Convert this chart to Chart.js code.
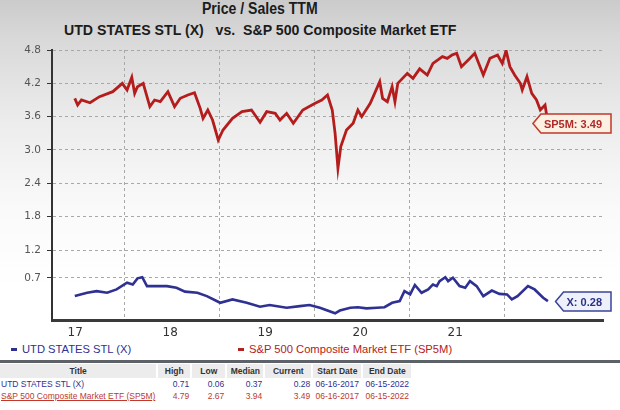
<!DOCTYPE html>
<html>
<head>
<meta charset="utf-8">
<script src="https://cdn.jsdelivr.net/npm/chart.js@4.4.1/dist/chart.umd.min.js"></script>
<style>
  html, body { margin: 0; padding: 0; }
  body {
    width: 620px; height: 410px; overflow: hidden; position: relative;
    background: linear-gradient(to bottom, #cbcbcb 0px, #d9d9d9 40px, #ececec 120px, #fafafa 210px, #ffffff 290px);
    font-family: "Liberation Sans", Arial, sans-serif;
  }
  .head { position: absolute; left: 0; width: 520px; text-align: center; color: #1c1c1c; font-weight: bold; white-space: nowrap; }
  .head span { display: inline-block; transform-origin: center; }
  #title { top: 0px; font-size: 16px; }
  #subtitle { top: 21px; font-size: 15px; }
  #chart { position: absolute; left: 0; top: 0; }
  .legend { position: absolute; top: 343px; font-size: 11.2px; white-space: nowrap; }
  .legend i { display: inline-block; width: 6px; height: 3px; margin-right: 5px; vertical-align: middle; position: relative; top: -1px; }
  #rule { position: absolute; left: 0; top: 360px; width: 620px; height: 3px; background: #5d6268; }
  table { position: absolute; left: 0; top: 364px; border-collapse: collapse; table-layout: fixed; font-size: 8.5px; }
  th { background: #ececec; color: #333; font-weight: bold; height: 14px; padding: 0; border-right: 2px solid #fff; }
  td { height: 12px; padding: 0 2px; text-align: right; white-space: nowrap; }
  td.name { text-align: left; padding-left: 1px; }
  td.date { text-align: center; }
</style>
</head>
<body>
<div id="title" class="head"><span>Price / Sales TTM</span></div>
<div id="subtitle" class="head"><span>UTD STATES STL (X)&nbsp;&nbsp;&nbsp;vs.&nbsp;&nbsp;S&amp;P 500 Composite Market ETF</span></div>
<canvas id="chart" width="620" height="340"></canvas>
<div class="legend" id="legX" style="left:11px;color:#2e3192"><i style="background:#2e3192"></i>UTD STATES STL (X)</div>
<div class="legend" id="legS" style="left:238px;color:#b52020"><i style="background:#b52020"></i>S&amp;P 500 Composite Market ETF (SP5M)</div>
<div id="rule"></div>
<table id="stats"></table>
<script>
// series names / tags
const seriesNames = ['UTD STATES STL (X)', 'S&P 500 Composite Market ETF (SP5M)'];
const seriesTags = ['X', 'SP5M'];
const seriesColors = ['#2e3192', '#b51d1d'];

// S&P 500 ETF price/sales, decimal year -> value
const spDates = [2017.48, 2017.51, 2017.55, 2017.64, 2017.74, 2017.88, 2017.98, 2018.03, 2018.08, 2018.11,
  2018.14, 2018.20, 2018.27, 2018.32, 2018.38, 2018.46, 2018.53, 2018.59, 2018.67, 2018.74,
  2018.80, 2018.83, 2018.88, 2018.93, 2018.99, 2019.04, 2019.14, 2019.24, 2019.34, 2019.43,
  2019.50, 2019.59, 2019.64, 2019.71, 2019.78, 2019.88, 2020.01, 2020.08, 2020.14, 2020.19,
  2020.22, 2020.25, 2020.28, 2020.34, 2020.41, 2020.46, 2020.50, 2020.59, 2020.69, 2020.72,
  2020.77, 2020.82, 2020.85, 2020.88, 2020.98, 2021.04, 2021.11, 2021.19, 2021.25, 2021.35,
  2021.40, 2021.45, 2021.50, 2021.55, 2021.64, 2021.69, 2021.78, 2021.85, 2021.93, 2021.98,
  2022.02, 2022.06, 2022.11, 2022.17, 2022.19, 2022.24, 2022.29, 2022.34, 2022.38, 2022.43, 2022.46];
const spValues = [3.93, 3.81, 3.90, 3.85, 3.96, 4.05, 4.20, 4.08, 4.31, 4.02,
  4.14, 4.20, 3.78, 3.90, 3.87, 4.05, 3.78, 3.93, 3.99, 4.03,
  3.75, 3.57, 3.72, 3.54, 3.18, 3.36, 3.57, 3.69, 3.72, 3.50,
  3.69, 3.66, 3.54, 3.66, 3.48, 3.72, 3.84, 3.90, 3.99, 3.72,
  3.30, 2.67, 3.06, 3.36, 3.48, 3.72, 3.60, 3.84, 4.23, 3.93,
  3.87, 4.14, 3.87, 4.20, 4.38, 4.29, 4.46, 4.35, 4.56, 4.68,
  4.65, 4.71, 4.74, 4.50, 4.65, 4.74, 4.35, 4.65, 4.71, 4.56,
  4.79, 4.50, 4.35, 4.20, 4.08, 4.32, 4.02, 3.90, 3.72, 3.81, 3.49];

// US Steel price/sales
const xDates = [2017.48, 2017.61, 2017.71, 2017.82, 2017.92, 2018.03, 2018.09, 2018.14, 2018.19, 2018.24,
  2018.34, 2018.45, 2018.55, 2018.64, 2018.77, 2018.87, 2019.01, 2019.14, 2019.29, 2019.43,
  2019.53, 2019.71, 2019.85, 2019.95, 2020.06, 2020.22, 2020.27, 2020.38, 2020.46, 2020.55,
  2020.66, 2020.74, 2020.82, 2020.90, 2020.95, 2021.01, 2021.06, 2021.13, 2021.20, 2021.25,
  2021.29, 2021.32, 2021.38, 2021.41, 2021.46, 2021.53, 2021.59, 2021.64, 2021.71, 2021.78,
  2021.87, 2021.95, 2022.03, 2022.08, 2022.14, 2022.25, 2022.32, 2022.41, 2022.46];
const xValues = [0.37, 0.43, 0.46, 0.43, 0.49, 0.61, 0.58, 0.69, 0.71, 0.55,
  0.55, 0.55, 0.52, 0.45, 0.43, 0.37, 0.25, 0.31, 0.25, 0.18,
  0.21, 0.16, 0.19, 0.21, 0.16, 0.06, 0.11, 0.16, 0.17, 0.15,
  0.16, 0.17, 0.25, 0.28, 0.46, 0.40, 0.57, 0.43, 0.49, 0.58,
  0.55, 0.64, 0.71, 0.64, 0.70, 0.55, 0.52, 0.64, 0.55, 0.37,
  0.47, 0.41, 0.40, 0.31, 0.37, 0.55, 0.49, 0.34, 0.28];

// axis ticks
const yTickValues = [4.8, 4.2, 3.6, 3.0, 2.4, 1.8, 1.2, 0.7];
const yTickLabels = ['4.8', '4.2', '3.6', '3.0', '2.4', '1.8', '1.2', '0.7'];
const xGridYears = [2018, 2019, 2020, 2021, 2022];
const xTickLabels = ['17', '18', '19', '20', '21'];

// summary table
const tableHeaders = ['Title', 'High', 'Low', 'Median', 'Current', 'Start Date', 'End Date'];
const tableHigh = ['0.71', '4.79'];
const tableLow = ['0.06', '2.67'];
const tableMedian = ['0.37', '3.94'];
const tableCurrent = ['0.28', '3.49'];
const tableStart = ['06-16-2017', '06-16-2017'];
const tableEnd = ['06-15-2022', '06-15-2022'];

function toPoints(dates, values) {
  return dates.map((d, i) => ({ x: d, y: values[i] }));
}

// fit title widths to the reference
function squeeze(id, width) {
  const span = document.querySelector('#' + id + ' span');
  span.style.transform = 'scaleX(' + (width / span.offsetWidth) + ')';
}
squeeze('title', 116);
squeeze('subtitle', 392);

// price tags at the end of each line
const tagStyle = [
  { fill: '#eef0fa', stroke: '#3b4399', text: '#2a3188' },
  { fill: '#fbf0e2', stroke: '#c0392b', text: '#b02a2a' }
];
const lastTags = {
  id: 'lastTags',
  afterDatasetsDraw(chart) {
    const ctx = chart.ctx;
    chart.data.datasets.forEach((ds, i) => {
      const meta = chart.getDatasetMeta(i);
      const pt = meta.data[meta.data.length - 1];
      const text = seriesTags[i] + ': ' + ds.data[ds.data.length - 1].y.toFixed(2);
      ctx.save();
      ctx.font = 'bold 11px "Liberation Sans", Arial, sans-serif';
      const w = ctx.measureText(text).width + 12;
      const right = 611, h = 19, y = Math.round(pt.y) + 0.5;
      const left = right - w;
      ctx.beginPath();
      ctx.moveTo(left - 8, y);
      ctx.lineTo(left, y - h / 2);
      ctx.lineTo(right, y - h / 2);
      ctx.lineTo(right, y + h / 2);
      ctx.lineTo(left, y + h / 2);
      ctx.closePath();
      ctx.fillStyle = tagStyle[i].fill;
      ctx.fill();
      ctx.lineWidth = 1.5;
      ctx.strokeStyle = tagStyle[i].stroke;
      ctx.stroke();
      ctx.fillStyle = tagStyle[i].text;
      ctx.textBaseline = 'middle';
      ctx.fillText(text, left + 3, y + 1);
      ctx.restore();
    });
  }
};

new Chart(document.getElementById('chart'), {
  type: 'line',
  data: {
    datasets: [
      {
        label: seriesNames[0],
        data: toPoints(xDates, xValues),
        borderColor: seriesColors[0],
        borderWidth: 2.6,
        pointRadius: 0,
        tension: 0
      },
      {
        label: seriesNames[1],
        data: toPoints(spDates, spValues),
        borderColor: seriesColors[1],
        borderWidth: 2.8,
        pointRadius: 0,
        tension: 0
      }
    ]
  },
  options: {
    responsive: false,
    animation: false,
    devicePixelRatio: 1,
    layout: { padding: { top: 50, right: 17, left: 0, bottom: 0 } },
    plugins: {
      legend: { display: false },
      title: { display: false },
      tooltip: { enabled: false }
    },
    scales: {
      x: {
        type: 'linear',
        min: 2017.24,
        max: 2023.04,
        afterFit(scale) { scale.height = 20; },
        afterBuildTicks(scale) { scale.ticks = xGridYears.map(v => ({ value: v })); },
        grid: { color: '#a8a8a8', lineWidth: 1, drawTicks: false },
        border: { color: '#3a3a3a', width: 3, dash: [3, 3] },
        ticks: {
          padding: 6,
          labelOffset: -49,
          color: '#333',
          font: { family: 'DejaVu Sans', size: 12 },
          callback: (v, i) => xTickLabels[i]
        }
      },
      y: {
        min: -0.06,
        max: 4.8,
        afterFit(scale) { scale.width = 52; },
        afterBuildTicks(scale) { scale.ticks = yTickValues.map(v => ({ value: v })); },
        grid: { color: '#a8a8a8', lineWidth: 1, tickLength: 5, tickColor: '#333' },
        border: { color: '#333', width: 2, dash: [3, 3] },
        ticks: {
          padding: 6,
          color: '#555',
          font: { family: 'DejaVu Sans', size: 10.5 },
          callback: (v, i) => yTickLabels[i]
        }
      }
    }
  },
  plugins: [lastTags]
});

// build the summary table
const colWidths = [138, 34, 35, 38, 48, 50, 50];
const tbl = document.getElementById('stats');
let html = '<colgroup>' + colWidths.map(w => '<col style="width:' + w + 'px">').join('') + '</colgroup>';
html += '<tr>' + tableHeaders.map(h => '<th>' + h + '</th>').join('') + '</tr>';
seriesNames.forEach((name, i) => {
  const c = i === 0 ? '#2e3192' : '#c0392b';
  const deco = i === 1 ? 'text-decoration:underline;' : '';
  html += '<tr style="color:' + c + '">' +
    '<td class="name" style="' + deco + '">' + name.replace('&', '&amp;') + '</td>' +
    '<td>' + tableHigh[i] + '</td>' +
    '<td>' + tableLow[i] + '</td>' +
    '<td>' + tableMedian[i] + '</td>' +
    '<td>' + tableCurrent[i] + '</td>' +
    '<td class="date">' + tableStart[i] + '</td>' +
    '<td class="date">' + tableEnd[i] + '</td></tr>';
});
tbl.innerHTML = html;
</script>
</body>
</html>
